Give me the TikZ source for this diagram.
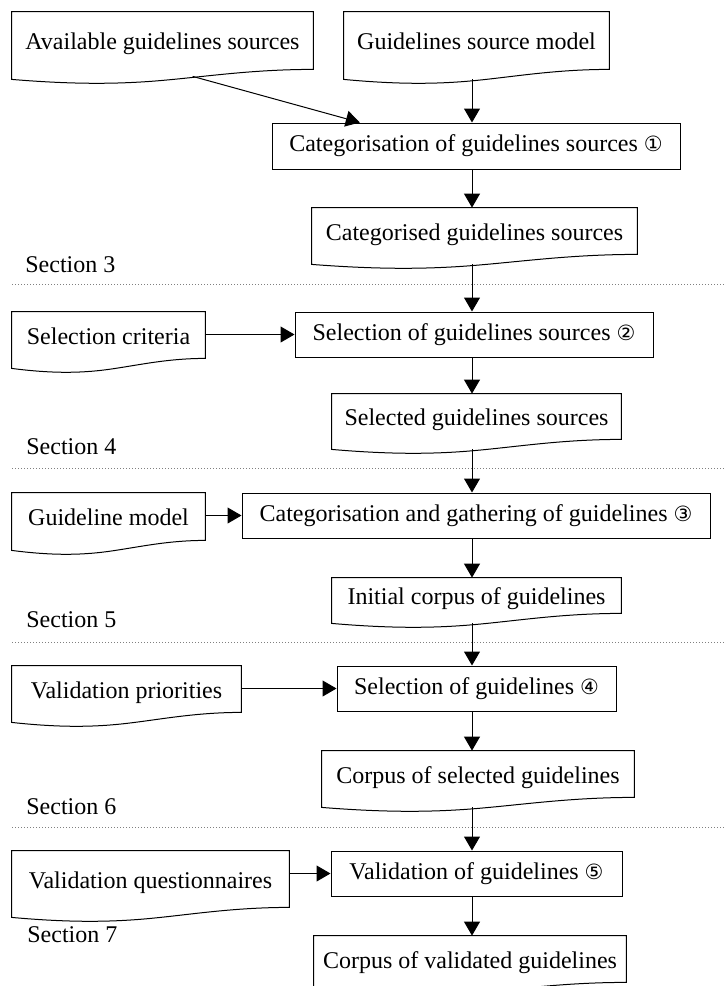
\documentclass[tikz,border=0pt]{standalone}
\usepackage{fontspec}
\setmainfont{Liberation Serif}
\newfontfamily\circfont{DejaVu Sans}
\usetikzlibrary{arrows.meta,calc}

\newcommand\stepno[1]{{\circfont\fontsize{10.5}{10.5}\selectfont #1}}
% wavy-bottomed document outline round a named node
\newcommand\docoutline[1]{%
  \draw[docline] (#1.south west) -- (#1.north west) -- (#1.north east)
    -- ($(#1.south east)+(0,-10)$)
    .. controls ($(#1.south west)!0.8!(#1.south east)+(0,-10)$)
    and ($(#1.south west)!0.65!(#1.south east)+(0,-3)$)
    .. ($(#1.south west)!0.5!(#1.south east)+(0,1)$)
    .. controls ($(#1.south west)!0.35!(#1.south east)+(0,5)$)
    and ($(#1.south west)!0.2!(#1.south east)+(0,5)$)
    .. (#1.south west) -- cycle;}

\tikzset{
  boxsize/.style 2 args={minimum width=#1*0.5pt, minimum height=#2*0.5pt},
  procbox/.style={draw, line width=0.5pt, inner xsep=2pt, text height=8.5pt, text depth=2.6pt},
  docbox/.style={inner xsep=2pt, text height=8.5pt, text depth=4.5pt},
  docline/.style={line width=0.5pt},
  flow/.style={-{Triangle[length=7pt,width=8pt]}, line width=0.5pt},
  secline/.style={densely dotted, gray, line width=0.5pt},
  seclabel/.style={anchor=west, inner sep=0pt}
}

\begin{document}
\begin{tikzpicture}[x=0.5pt, y=-0.5pt, every node/.style={font=\fontsize{12}{14}\selectfont}]
  \useasboundingbox (0,0) rectangle (725,986);
  \clip (0,0) rectangle (725,986);
  \coordinate (spine) at (472,0);

  % inputs and products
  \node[docbox, boxsize={301}{67}] (avail) at (162.5,45.5) {Available guidelines sources};
  \node[docbox, boxsize={265}{67}] (srcmodel) at (476.5,45.5) {Guidelines source model};
  \node[docbox, boxsize={325}{56}] (catsrc) at (474.5,236) {Categorised guidelines sources};
  \node[docbox, boxsize={193}{56}] (criteria) at (108.5,340) {Selection criteria};
  \node[docbox, boxsize={289}{55}] (selsrc) at (476.5,421.5) {Selected guidelines sources};
  \node[docbox, boxsize={193}{57}] (glmodel) at (108.5,521.5) {Guideline model};
  \node[docbox, boxsize={289}{45}] (initial) at (476.5,600.5) {Initial corpus of guidelines};
  \node[docbox, boxsize={229}{56}] (priorities) at (126.5,694) {Validation priorities};
  \node[docbox, boxsize={312}{56}] (selcorpus) at (478,779) {Corpus of selected guidelines};
  \node[docbox, boxsize={277}{66}] (questions) at (150.5,884) {Validation questionnaires};
  \node[docbox, boxsize={312}{56}] (valcorpus) at (470,964) {Corpus of validated guidelines};
  \foreach \d in {avail,srcmodel,catsrc,criteria,selsrc,glmodel,initial,priorities,selcorpus,questions,valcorpus}
    \docoutline{\d};

  % steps
  \node[procbox, boxsize={408}{46}] (step1) at (476,146) {Categorisation of guidelines sources \stepno{①}};
  \node[procbox, boxsize={358}{45}] (step2) at (474,334.5) {Selection of guidelines sources \stepno{②}};
  \node[procbox, boxsize={468}{45}] (step3) at (476,515.5) {Categorisation and gathering of guidelines \stepno{③}};
  \node[procbox, boxsize={279}{45}] (step4) at (476.5,688.5) {Selection of guidelines \stepno{④}};
  \node[procbox, boxsize={291}{45}] (step5) at (476.5,873.5) {Validation of guidelines \stepno{⑤}};

  % sections
  \node[seclabel] (sec3) at (25,265) {Section 3};
  \node[seclabel] (sec4) at (26,447) {Section 4};
  \node[seclabel] (sec5) at (26,620) {Section 5};
  \node[seclabel] (sec6) at (26,807) {Section 6};
  \node[seclabel] (sec7) at (27,935) {Section 7};
  \draw[secline] (12,284) -- (725,284);
  \draw[secline] (12,468) -- (725,468);
  \draw[secline] (12,642) -- (725,642);
  \draw[secline] (12,827) -- (725,827);

  % flow
  \draw[flow] ($(avail.south west)!0.6!(avail.south east)+(0,-3)$) -- ($(step1.north west)!0.216!(step1.north east)$);
  \draw[flow] (srcmodel.south -| spine) -- (step1.north -| spine);
  \draw[flow] (step1.south -| spine) -- (catsrc.north -| spine);
  \draw[flow] (catsrc.south -| spine) -- (step2.north -| spine);
  \draw[flow] (step2.south -| spine) -- (selsrc.north -| spine);
  \draw[flow] (selsrc.south -| spine) -- (step3.north -| spine);
  \draw[flow] (step3.south -| spine) -- (initial.north -| spine);
  \draw[flow] (initial.south -| spine) -- (step4.north -| spine);
  \draw[flow] (step4.south -| spine) -- (selcorpus.north -| spine);
  \draw[flow] (selcorpus.south -| spine) -- (step5.north -| spine);
  \draw[flow] (step5.south -| spine) -- (valcorpus.north -| spine);
  \draw[flow] (criteria.east |- step2.west) -- (step2.west);
  \draw[flow] (glmodel.east |- step3.west) -- (step3.west);
  \draw[flow] (priorities.east |- step4.west) -- (step4.west);
  \draw[flow] (questions.east |- step5.west) -- (step5.west);
\end{tikzpicture}
\end{document}
